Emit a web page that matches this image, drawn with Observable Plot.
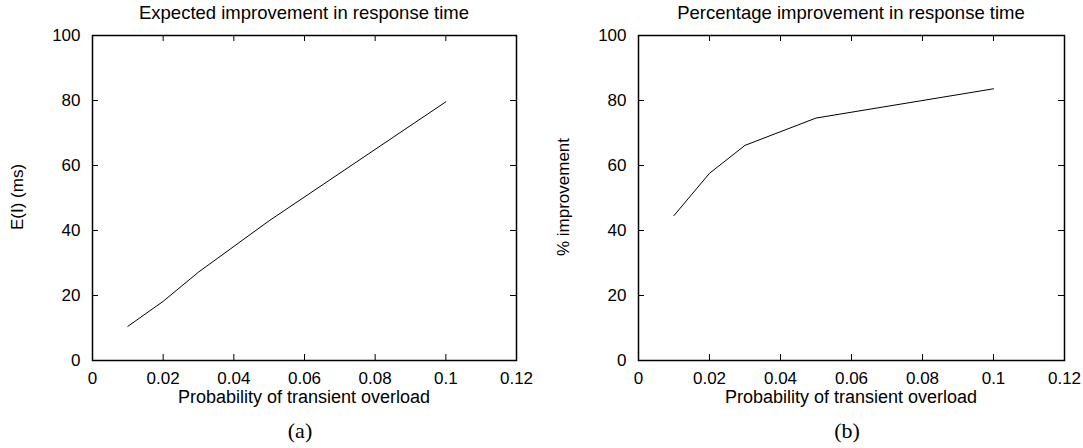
<!DOCTYPE html>
<html>
<head>
<meta charset="utf-8">
<script src="https://cdn.jsdelivr.net/npm/d3@7"></script>
<script src="https://cdn.jsdelivr.net/npm/@observablehq/plot@0.6"></script>
<style>
  html, body { margin: 0; padding: 0; background: white; }
  #root { position: relative; width: 1083px; height: 448px; overflow: hidden; background: white; font-family: "Liberation Sans", Arial, sans-serif; }
  .svgwrap { position: absolute; top: 0; }
  .t { position: absolute; white-space: nowrap; font-size: 18px; color: black; line-height: 1; transform: translate(-50%, -50%); }
  .title { font-size: 18.5px; }
  .ylab { font-size: 17px; transform: translate(-50%, -50%) rotate(-90deg); }
  .cap { font-family: "Liberation Serif", "DejaVu Serif", serif; font-size: 22px; }
</style>
</head>
<body>
<div id="root"></div>
<script>
// ---- data ----
const probability = [0.01, 0.02, 0.03, 0.05, 0.1];
const expectedImprovement = [10.5, 18.2, 27.2, 43.0, 79.6];
const percentImprovement = [44.6, 57.6, 66.2, 74.6, 83.6];
const xTicks = [0, 0.02, 0.04, 0.06, 0.08, 0.1, 0.12];
const yTicks = [0, 20, 40, 60, 80, 100];
const titles = ["Expected improvement in response time", "Percentage improvement in response time"];
const yLabels = ["E(I) (ms)", "% improvement"];
const xLabel = "Probability of transient overload";
const captions = ["(a)", "(b)"];

const root = document.getElementById("root");
const T = 6; // inward tick length (px)
const H = 400, MT = 35, MB = 40;

function panel(values, width, ml, mr) {
  const data = probability.map((p, i) => ({p, v: values[i]}));
  const ph = H - MT - MB, pw = width - ml - mr;
  return Plot.plot({
    width, height: H,
    marginLeft: ml, marginRight: mr, marginTop: MT, marginBottom: MB,
    x: {domain: [0, 0.12]},
    y: {domain: [0, 100]},
    style: {fontFamily: "'Liberation Sans', Arial, sans-serif", fontSize: "17px", color: "black", background: "white", overflow: "visible"},
    marks: [
      // tick labels
      Plot.axisX(xTicks, {anchor: "bottom", tickSize: 0, tickPadding: 11, tickFormat: d => String(d), label: null}),
      Plot.axisY(yTicks, {anchor: "left", tickSize: 0, tickPadding: 12, tickFormat: d => String(d), label: null}),
      // inward ticks on all four sides
      Plot.tickX(xTicks, {x: d => d, insetTop: ph - T, stroke: "black", strokeWidth: 1}),
      Plot.tickX(xTicks, {x: d => d, insetBottom: ph - T, stroke: "black", strokeWidth: 1}),
      Plot.tickY(yTicks, {y: d => d, insetRight: pw - T, stroke: "black", strokeWidth: 1}),
      Plot.tickY(yTicks, {y: d => d, insetLeft: pw - T, stroke: "black", strokeWidth: 1}),
      Plot.frame({stroke: "black", strokeWidth: 1.5}),
      Plot.line(data, {x: "p", y: "v", stroke: "black", strokeWidth: 1})
    ]
  });
}

function addText(txt, x, y, cls) {
  const d = document.createElement("div");
  d.className = "t " + (cls || "");
  d.style.left = x + "px";
  d.style.top = y + "px";
  d.textContent = txt;
  root.appendChild(d);
}

const panels = [
  {values: expectedImprovement, left: 0, width: 541, ml: 92, mr: 25},
  {values: percentImprovement, left: 541, width: 542, ml: 97, mr: 19}
];

panels.forEach((pn, i) => {
  const w = document.createElement("div");
  w.className = "svgwrap";
  w.style.left = pn.left + "px";
  w.appendChild(panel(pn.values, pn.width, pn.ml, pn.mr));
  root.appendChild(w);
  const x0 = pn.left + pn.ml, x1 = pn.left + pn.width - pn.mr;
  const cx = (x0 + x1) / 2;
  addText(titles[i], cx, 13, "title");
  addText(xLabel, cx, 397);
  addText(yLabels[i], pn.left + (i === 0 ? 17 : 22), 197, "ylab");
  addText(captions[i], cx - 4, 431, "cap");
});
</script>
</body>
</html>
